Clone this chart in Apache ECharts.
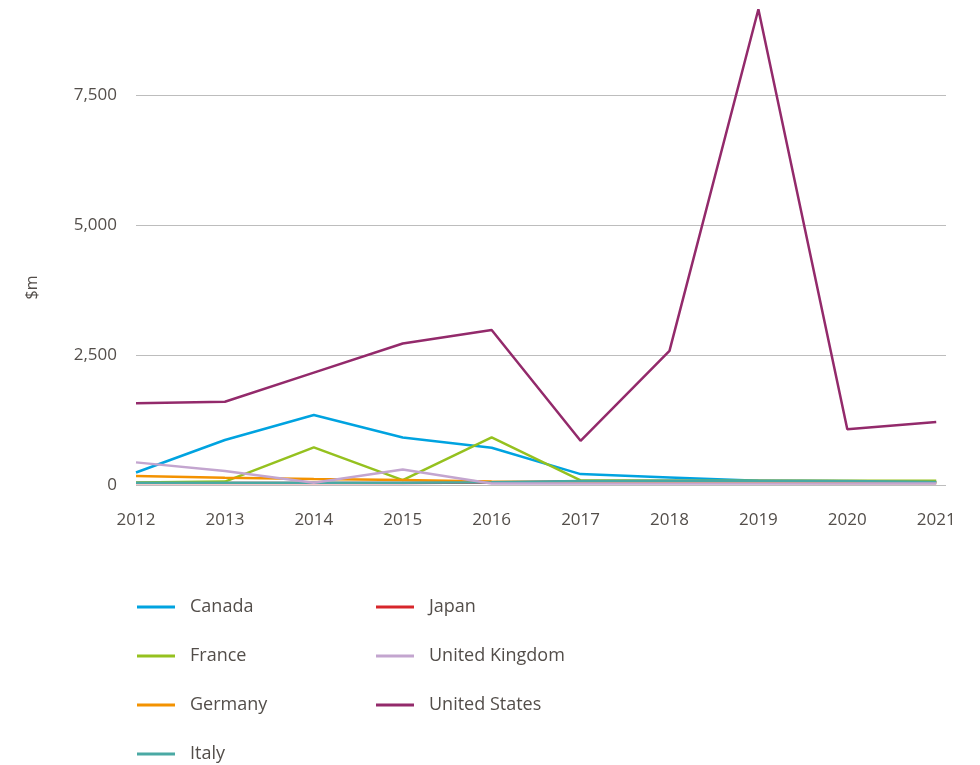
<!DOCTYPE html>
<html>
<head>
<meta charset="utf-8">
<script src="https://cdn.jsdelivr.net/npm/echarts@6/dist/echarts.min.js"></script>
<style>
html,body{margin:0;padding:0;background:#fff;}
#chart{width:980px;height:765px;}
</style>
</head>
<body>
<div id="chart"></div>
<script>
const years   = [2012, 2013, 2014, 2015, 2016, 2017, 2018, 2019, 2020, 2021];
const canada  = [240, 865, 1345, 915, 715, 210, 145, 80, 70, 60];
const france  = [50, 65, 725, 95, 915, 90, 80, 80, 80, 80];
const germany = [175, 140, 115, 95, 65, 50, 45, 45, 40, 40];
const italy   = [45, 45, 45, 45, 55, 75, 80, 80, 75, 60];
const japan   = [40, 40, 40, 40, 50, 70, 75, 75, 70, 55];
const uk      = [435, 270, 45, 300, 30, 30, 30, 30, 30, 30];
const us      = [1570, 1600, 2160, 2720, 2980, 850, 2580, 9150, 1070, 1210];
const yTicks  = [0, 2500, 5000, 7500];

const FONT = '"Open Sans", "Noto Sans", sans-serif';
const TXT = '#534e4a';

function mk(name, data, color, z) {
  return {
    name: name, type: 'line',
    data: years.map(function (y, i) { return [y, data[i]]; }),
    symbol: 'none', smooth: false, z: z,
    lineStyle: { color: color, width: 2.5 },
    itemStyle: { color: color }
  };
}

const legendText = { color: TXT, fontSize: 18, fontFamily: FONT, lineHeight: 20, padding: [0, 0, 0, 10] };

const chart = echarts.init(document.getElementById('chart'), null, {renderer: 'canvas'});
chart.setOption({
  animation: false,
  textStyle: { fontFamily: FONT },
  grid: { left: 136, right: 34, top: 4, bottom: 280, containLabel: false },
  xAxis: {
    type: 'value', min: 2012, max: 2021.11, interval: 1,
    axisLine: { show: false },
    axisTick: { show: false },
    axisLabel: {
      color: TXT, fontSize: 17, margin: 27, fontFamily: FONT, showMaxLabel: false,
      formatter: function (v) { return years.indexOf(v) >= 0 ? String(v) : ''; }
    },
    splitLine: { show: false }
  },
  yAxis: {
    type: 'value', min: 0, max: 9250, interval: 2500,
    name: '$m', nameLocation: 'middle', nameGap: 96, nameRotate: 90,
    nameTextStyle: { color: TXT, fontSize: 16, fontFamily: FONT, padding: [0, 86, 0, 0] },
    axisLine: { show: false }, axisTick: { show: false },
    axisLabel: {
      color: TXT, fontSize: 17, margin: 19, fontFamily: FONT, showMaxLabel: false,
      formatter: function (v) { return yTicks.indexOf(v) >= 0 ? v.toLocaleString('en-US') : ''; }
    },
    splitLine: { show: true, showMaxLine: false, lineStyle: { color: '#bdbdbd', width: 1 } }
  },
  legend: [
    {
      data: ['Canada', 'France', 'Germany', 'Italy'],
      orient: 'vertical', left: 137, top: 597, height: 220, padding: 0,
      itemWidth: 38, itemHeight: 3, itemGap: 29, icon: 'rect',
      textStyle: legendText
    },
    {
      data: ['Japan', 'United Kingdom', 'United States'],
      orient: 'vertical', left: 376, top: 597, height: 220, padding: 0,
      itemWidth: 38, itemHeight: 3, itemGap: 29, icon: 'rect',
      textStyle: legendText
    }
  ],
  series: [
    mk('Japan', japan, '#d7262b', 1),
    mk('Canada', canada, '#00a3e0', 2),
    mk('France', france, '#95c11f', 3),
    mk('Germany', germany, '#f39200', 4),
    mk('Italy', italy, '#4aa9a4', 5),
    mk('United Kingdom', uk, '#c3a5cf', 6),
    mk('United States', us, '#932a6b', 7)
  ]
});
</script>
</body>
</html>
